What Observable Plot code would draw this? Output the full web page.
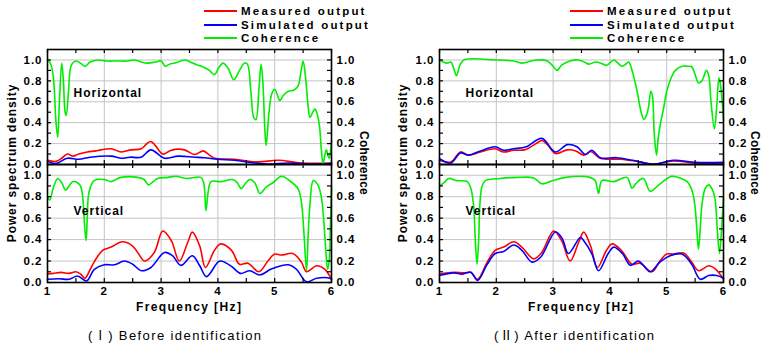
<!DOCTYPE html>
<html>
<head>
<meta charset="utf-8">
<script src="https://cdn.jsdelivr.net/npm/d3@7"></script>
<script src="https://cdn.jsdelivr.net/npm/@observablehq/plot@0.6"></script>
<style>
  html, body { margin: 0; padding: 0; background: #fff; }
  #root { position: relative; width: 761px; height: 348px; overflow: hidden; font-family: "Liberation Sans", Arial, sans-serif; }
  .lbl { position: absolute; font-weight: bold; font-size: 12px; letter-spacing: 2px; color: #000; white-space: nowrap; line-height: 11px; height: 11px; }
  .leg { font-size: 11.5px; letter-spacing: 2.2px; line-height: 10px; height: 10px; }
  .rot { position: absolute; font-weight: bold; font-size: 12px; white-space: nowrap; line-height: 12px; transform-origin: center center; }
  .cap { position: absolute; font-size: 13px; letter-spacing: 1.4px; white-space: nowrap; line-height: 13px; font-family: "Liberation Sans", "Noto Sans CJK SC", sans-serif; }
  .sw { position: absolute; height: 2px; width: 33px; }
</style>
</head>
<body>
<div id="root"></div>
<script>
// ---------- Data ----------
const seriesNames = ["Measured output", "Simulated output", "Coherence"];
const seriesColors = ["#ff0000", "#0000ff", "#00ee00"];
const subplotLabels = ["Horizontal", "Vertical"];
const captions = ["(Ⅰ) Before identification", "(Ⅱ) After identification"];
const xTicks = [1, 2, 3, 4, 5, 6];
const xMinor = [1.5, 2.5, 3.5, 4.5, 5.5];
const yTicks = [0, 0.2, 0.4, 0.6, 0.8, 1.0];
const yMinor = [0.1, 0.3, 0.5, 0.7, 0.9];

// (I) Before identification — Horizontal
const beforeH_meas = [[1.0,0.04],[1.15,0.03],[1.25,0.06],[1.35,0.10],[1.45,0.08],[1.55,0.1],[1.7,0.12],[1.85,0.13],[1.94,0.14],[2.12,0.15],[2.3,0.12],[2.47,0.14],[2.65,0.15],[2.75,0.2],[2.82,0.22],[2.9,0.18],[3.03,0.1],[3.15,0.13],[3.24,0.145],[3.41,0.14],[3.59,0.095],[3.74,0.13],[3.85,0.09],[3.94,0.06],[4.29,0.05],[4.7,0.025],[5.06,0.04],[5.47,0.015],[6.0,0.015]];
const beforeH_sim = [[1.0,0.03],[1.15,0.01],[1.35,0.06],[1.55,0.05],[1.75,0.07],[2.12,0.08],[2.3,0.06],[2.45,0.07],[2.65,0.07],[2.82,0.14],[3.06,0.06],[3.3,0.08],[3.59,0.07],[3.76,0.065],[4.0,0.05],[4.29,0.04],[4.65,0.015],[4.88,0.005],[5.24,0.015],[5.6,0.005],[6.0,0.01]];
const beforeH_coh = [[1.0,1.0],[1.05,0.97],[1.1,0.85],[1.15,0.4],[1.18,0.26],[1.21,0.6],[1.25,0.97],[1.28,0.8],[1.31,0.5],[1.33,0.47],[1.37,0.7],[1.42,0.95],[1.5,0.99],[1.58,0.97],[1.66,0.94],[1.75,0.98],[1.88,1.0],[2.05,0.99],[2.24,0.99],[2.4,0.99],[2.53,1.0],[2.65,0.98],[2.76,0.97],[2.9,0.98],[3.0,0.99],[3.07,0.94],[3.15,0.96],[3.24,0.97],[3.35,0.99],[3.43,1.0],[3.55,0.97],[3.65,0.95],[3.75,0.93],[3.85,0.9],[3.94,0.86],[4.02,0.93],[4.09,0.97],[4.18,0.92],[4.28,0.81],[4.38,0.9],[4.47,0.97],[4.52,0.96],[4.58,0.7],[4.63,0.45],[4.67,0.43],[4.72,0.7],[4.76,0.96],[4.79,0.8],[4.83,0.3],[4.85,0.18],[4.9,0.5],[4.95,0.68],[5.0,0.72],[5.05,0.66],[5.09,0.61],[5.15,0.66],[5.24,0.7],[5.33,0.71],[5.41,0.75],[5.46,0.88],[5.5,0.99],[5.54,0.85],[5.59,0.55],[5.62,0.45],[5.67,0.5],[5.71,0.53],[5.75,0.48],[5.79,0.36],[5.82,0.15],[5.85,0.01],[5.88,0.08],[5.91,0.14],[5.94,0.08],[5.96,0.06],[5.98,0.12],[6.0,0.22]];
// (I) Before identification — Vertical
const beforeV_meas = [[1.0,0.08],[1.1,0.085],[1.24,0.094],[1.38,0.085],[1.5,0.1],[1.58,0.08],[1.66,0.04],[1.75,0.12],[1.82,0.19],[1.97,0.3],[2.12,0.33],[2.32,0.38],[2.5,0.34],[2.6,0.27],[2.71,0.2],[2.88,0.28],[3.03,0.48],[3.18,0.39],[3.32,0.2],[3.47,0.375],[3.55,0.47],[3.68,0.34],[3.78,0.14],[3.94,0.3],[4.05,0.36],[4.24,0.3],[4.38,0.17],[4.53,0.18],[4.72,0.1],[4.88,0.2],[5.0,0.265],[5.12,0.256],[5.32,0.27],[5.47,0.19],[5.56,0.1],[5.74,0.156],[5.88,0.125],[6.0,0.03]];
const beforeV_sim = [[1.0,0.03],[1.2,0.035],[1.38,0.03],[1.53,0.06],[1.69,0.015],[1.82,0.12],[2.0,0.165],[2.18,0.165],[2.35,0.2],[2.5,0.17],[2.65,0.11],[2.82,0.14],[3.06,0.28],[3.2,0.25],[3.35,0.16],[3.55,0.25],[3.68,0.156],[3.8,0.055],[4.0,0.19],[4.06,0.2],[4.24,0.15],[4.4,0.085],[4.56,0.11],[4.74,0.07],[4.94,0.125],[5.24,0.165],[5.38,0.125],[5.56,0.006],[5.74,0.04],[5.97,0.04],[6.0,0.03]];
const beforeV_coh = [[1.0,0.8],[1.04,0.77],[1.1,0.88],[1.18,0.97],[1.25,0.93],[1.32,0.86],[1.38,0.9],[1.44,0.94],[1.53,0.93],[1.58,0.9],[1.62,0.8],[1.65,0.55],[1.68,0.39],[1.7,0.6],[1.73,0.84],[1.82,0.95],[2.0,0.96],[2.12,0.94],[2.29,0.98],[2.59,0.98],[2.7,0.96],[2.78,0.91],[2.86,0.94],[2.94,0.97],[3.12,0.98],[3.26,0.99],[3.44,0.97],[3.7,0.98],[3.75,0.93],[3.79,0.67],[3.83,0.85],[3.88,0.94],[4.06,0.94],[4.26,0.96],[4.34,0.93],[4.41,0.875],[4.48,0.92],[4.56,0.96],[4.65,0.93],[4.74,0.83],[4.85,0.89],[4.97,0.93],[5.12,0.99],[5.26,0.95],[5.41,0.875],[5.47,0.75],[5.51,0.5],[5.56,0.11],[5.59,0.45],[5.62,0.72],[5.68,0.95],[5.76,0.91],[5.82,0.8],[5.86,0.6],[5.9,0.3],[5.93,0.125],[5.96,0.2],[5.98,0.5],[6.0,0.9]];

// (II) After identification — Horizontal
const afterH_meas = [[1.0,0.04],[1.2,0.025],[1.37,0.12],[1.51,0.09],[1.72,0.12],[1.98,0.15],[2.13,0.12],[2.3,0.136],[2.5,0.14],[2.7,0.2],[2.8,0.23],[2.9,0.19],[3.04,0.105],[3.25,0.14],[3.4,0.13],[3.54,0.09],[3.66,0.125],[3.83,0.06],[4.18,0.05],[4.53,0.025],[4.77,0.003],[5.12,0.035],[5.5,0.015],[6.0,0.015]];
const afterH_sim = [[1.0,0.055],[1.2,0.015],[1.37,0.11],[1.51,0.09],[1.72,0.13],[1.98,0.17],[2.13,0.136],[2.3,0.15],[2.53,0.17],[2.8,0.25],[3.04,0.12],[3.25,0.19],[3.42,0.17],[3.57,0.095],[3.68,0.136],[3.83,0.065],[4.12,0.065],[4.4,0.04],[4.77,0.003],[5.12,0.04],[5.5,0.02],[6.0,0.02]];
const afterH_coh = [[1.0,1.0],[1.13,0.97],[1.2,0.98],[1.25,0.92],[1.3,0.85],[1.36,0.95],[1.43,1.0],[2.0,1.0],[2.3,0.99],[2.45,0.97],[2.7,1.0],[2.9,0.99],[3.0,0.94],[3.07,0.9],[3.15,0.95],[3.3,0.99],[3.45,1.0],[3.55,0.98],[3.63,0.96],[3.75,0.98],[3.88,0.96],[3.95,0.95],[4.07,1.0],[4.14,0.97],[4.21,0.94],[4.28,0.96],[4.33,0.98],[4.39,0.9],[4.48,0.7],[4.55,0.5],[4.6,0.43],[4.65,0.48],[4.68,0.55],[4.72,0.7],[4.75,0.65],[4.78,0.3],[4.82,0.09],[4.85,0.25],[4.89,0.39],[4.95,0.55],[5.0,0.7],[5.08,0.83],[5.15,0.9],[5.27,0.94],[5.36,0.94],[5.44,0.935],[5.5,0.86],[5.56,0.78],[5.62,0.8],[5.7,0.9],[5.74,0.85],[5.78,0.6],[5.84,0.34],[5.88,0.55],[5.92,0.83],[5.95,0.75],[6.0,0.42]];
// (II) After identification — Vertical
const afterV_meas = [[1.0,0.08],[1.25,0.095],[1.43,0.09],[1.55,0.095],[1.67,0.03],[1.84,0.19],[1.98,0.3],[2.13,0.33],[2.31,0.38],[2.45,0.33],[2.66,0.22],[2.8,0.28],[3.01,0.48],[3.15,0.39],[3.3,0.2],[3.45,0.375],[3.54,0.47],[3.66,0.34],[3.78,0.14],[3.94,0.3],[4.04,0.36],[4.2,0.3],[4.39,0.17],[4.53,0.18],[4.74,0.1],[4.88,0.2],[5.0,0.265],[5.12,0.265],[5.3,0.275],[5.44,0.19],[5.56,0.11],[5.74,0.156],[5.86,0.125],[6.0,0.03]];
const afterV_sim = [[1.0,0.065],[1.25,0.09],[1.4,0.078],[1.55,0.095],[1.67,0.02],[1.84,0.17],[1.98,0.27],[2.13,0.29],[2.31,0.35],[2.45,0.3],[2.63,0.19],[2.78,0.235],[3.04,0.47],[3.16,0.41],[3.27,0.27],[3.48,0.42],[3.54,0.39],[3.68,0.27],[3.8,0.11],[3.97,0.27],[4.07,0.33],[4.22,0.27],[4.36,0.16],[4.5,0.2],[4.59,0.16],[4.71,0.1],[4.88,0.19],[5.06,0.25],[5.27,0.265],[5.44,0.17],[5.59,0.03],[5.74,0.065],[5.88,0.065],[6.0,0.04]];
const afterV_coh = [[1.0,0.9],[1.08,0.93],[1.16,0.97],[1.3,0.95],[1.49,0.94],[1.55,0.88],[1.6,0.72],[1.63,0.4],[1.66,0.17],[1.69,0.4],[1.71,0.72],[1.75,0.9],[1.81,0.95],[2.07,0.97],[2.37,0.98],[2.66,0.975],[2.8,0.92],[3.0,0.95],[3.22,0.98],[3.65,0.98],[3.74,0.95],[3.8,0.83],[3.86,0.95],[4.07,0.94],[4.3,0.98],[4.39,0.88],[4.47,0.93],[4.59,0.97],[4.71,0.85],[4.86,0.91],[5.09,0.99],[5.25,0.97],[5.36,0.94],[5.45,0.85],[5.5,0.7],[5.53,0.5],[5.56,0.31],[5.59,0.5],[5.62,0.72],[5.68,0.88],[5.74,0.91],[5.8,0.87],[5.85,0.78],[5.89,0.5],[5.93,0.27],[5.96,0.45],[6.0,0.8]];

// ---------- Layout ----------
const root = document.getElementById("root");
const FONT = "'Liberation Sans', Arial, sans-serif";
const panels = [
  {left: 0, width: 380, ml: 47, mr: 49, sets: [[beforeH_meas, beforeH_sim, beforeH_coh], [beforeV_meas, beforeV_sim, beforeV_coh]],
   legendX: 204, yTitleX: 12, cohTitleX: 364, freqCX: 189, capCX: 175, caption: captions[0]},
  {left: 380, width: 381, ml: 59, mr: 38, sets: [[afterH_meas, afterH_sim, afterH_coh], [afterV_meas, afterV_sim, afterV_coh]],
   legendX: 570, yTitleX: 403, cohTitleX: 755, freqCX: 581, capCX: 575, caption: captions[1]}
];
const rows = [
  {top: 39, height: 135, mt: 10, mb: 10, xLabels: false},
  {top: 154, height: 150, mt: 10, mb: 22, xLabels: true}
];

function subplot(p, r, sets, label) {
  const fw = p.width - p.ml - p.mr;
  const fh = r.height - r.mt - r.mb;
  const fmt = d3.format(".1f");
  const marks = [
    Plot.gridX(xTicks.slice(1, -1), {stroke: "#c4c4c4", strokeOpacity: 1, strokeWidth: 1}),
    Plot.gridY(yTicks.slice(1), {stroke: "#c4c4c4", strokeOpacity: 1, strokeWidth: 1}),
  ];
  sets.forEach((s, i) => {
    marks.push(Plot.line(s, {x: d => d[0], y: d => d[1], stroke: seriesColors[i], strokeWidth: 1.6, curve: "catmull-rom"}));
  });
  // inward tick marks on all four sides
  const allY = yTicks.concat(yMinor), allX = xTicks.concat(xMinor);
  marks.push(
    Plot.tickY(allY, {y: d => d, insetRight: fw - 4, stroke: "#000", strokeWidth: 1.2}),
    Plot.tickY(allY, {y: d => d, insetLeft: fw - 4, stroke: "#000", strokeWidth: 1.2}),
    Plot.tickX(allX, {x: d => d, insetTop: fh - 4, stroke: "#000", strokeWidth: 1.2}),
    Plot.tickX(allX, {x: d => d, insetBottom: fh - 4, stroke: "#000", strokeWidth: 1.2}),
    Plot.frame({stroke: "#000", strokeWidth: 1.6}),
    Plot.axisY({ticks: yTicks, anchor: "left", tickSize: 0, tickPadding: 5, tickFormat: fmt, label: null}),
    Plot.axisY({ticks: yTicks, anchor: "right", tickSize: 0, tickPadding: 5, tickFormat: fmt, label: null}),
    Plot.text([label], {frameAnchor: "top-left", dx: 26, dy: r.xLabels ? 47 : 44, textAnchor: "start", lineAnchor: "middle",
      fontSize: 12, fontWeight: "bold", fill: "#000", style: "letter-spacing:2px"})
  );
  if (r.xLabels) {
    marks.push(Plot.axisX({ticks: xTicks, anchor: "bottom", tickSize: 0, tickPadding: 4, tickFormat: d => d, label: null}));
  }
  const svg = Plot.plot({
    width: p.width, height: r.height,
    marginLeft: p.ml, marginRight: p.mr, marginTop: r.mt, marginBottom: r.mb,
    x: {domain: [1, 6], axis: null},
    y: {domain: [0, 1.1], axis: null},
    style: {background: "transparent", fontFamily: FONT, fontSize: "11.5px", fontWeight: "bold", color: "#000", letterSpacing: "1px", overflow: "visible"},
    marks
  });
  svg.style.position = "absolute";
  svg.style.left = p.left + "px";
  svg.style.top = r.top + "px";
  svg.style.maxWidth = "none";
  return svg;
}

panels.forEach(p => {
  rows.forEach((r, k) => root.appendChild(subplot(p, r, p.sets[k], subplotLabels[k])));

  // legend
  const legendY = [10.5, 24.5, 38];
  seriesNames.forEach((name, i) => {
    const sw = document.createElement("div");
    sw.className = "sw";
    sw.style.left = p.legendX + "px";
    sw.style.top = Math.round(legendY[i] - 1) + "px";
    sw.style.background = seriesColors[i];
    root.appendChild(sw);
    const t = document.createElement("div");
    t.className = "lbl leg";
    t.textContent = name;
    t.style.left = (p.legendX + 37) + "px";
    t.style.top = (legendY[i] - 5) + "px";
    root.appendChild(t);
  });

  // axis titles
  const yt = document.createElement("div");
  yt.className = "rot";
  yt.style.letterSpacing = "0.9px";
  yt.textContent = "Power spectrum density";
  root.appendChild(yt);
  yt.style.left = (p.yTitleX - yt.offsetWidth / 2) + "px";
  yt.style.top = (163 - 6) + "px";
  yt.style.transform = "rotate(-90deg)";

  const ct = document.createElement("div");
  ct.className = "rot";
  ct.style.letterSpacing = "0.2px";
  ct.textContent = "Coherence";
  root.appendChild(ct);
  ct.style.left = (p.cohTitleX - ct.offsetWidth / 2) + "px";
  ct.style.top = (163 - 6) + "px";
  ct.style.transform = "rotate(90deg)";

  const ft = document.createElement("div");
  ft.className = "lbl";
  ft.style.letterSpacing = "1.4px";
  ft.textContent = "Frequency [Hz]";
  root.appendChild(ft);
  ft.style.left = (p.freqCX - ft.offsetWidth / 2) + "px";
  ft.style.top = (307 - 5.5) + "px";

  const cp = document.createElement("div");
  cp.className = "cap";
  cp.textContent = p.caption;
  root.appendChild(cp);
  cp.style.left = (p.capCX - cp.offsetWidth / 2) + "px";
  cp.style.top = (336 - 7) + "px";
});
</script>
</body>
</html>
